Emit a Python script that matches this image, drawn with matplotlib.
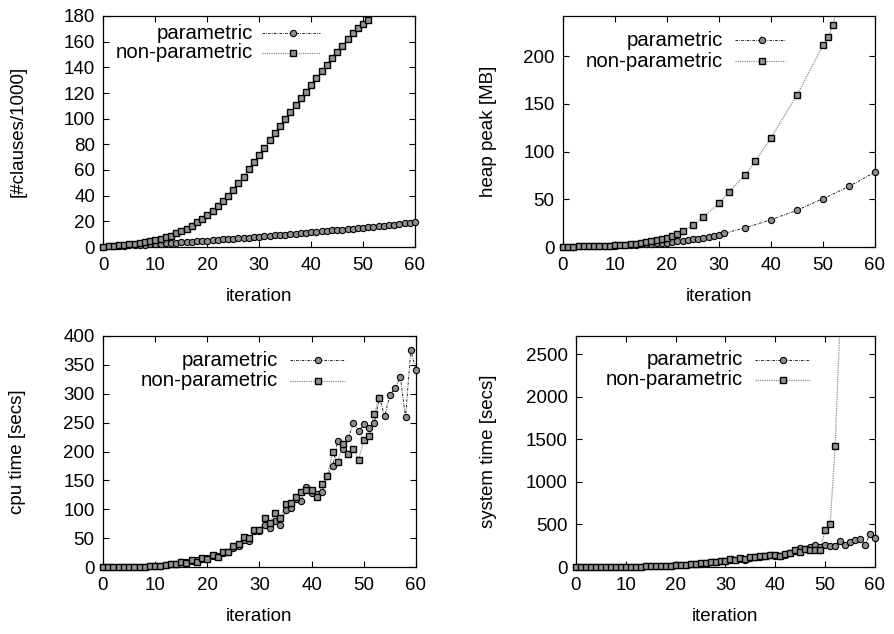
import numpy as np
import matplotlib
matplotlib.use("Agg")
import matplotlib.pyplot as plt
from matplotlib.lines import Line2D

plt.rcParams['font.family'] = ['Liberation Sans', 'DejaVu Sans']

FS = 13.5
FS_LEG = 14.7

# ---------------- data ----------------
labels = ["parametric", "non-parametric"]
xlabel = "iteration"
ylabels = ["[#clauses/1000]", "heap peak [MB]", "cpu time [secs]", "system time [secs]"]
xticks = [0, 10, 20, 30, 40, 50, 60]

# top-left: #clauses/1000
tl_param_x = list(range(61))
tl_param_y = [0.2, 0.4, 0.6, 0.8, 1.0, 1.2, 1.4, 1.6, 1.9, 2.1, 2.3, 2.6, 2.8, 3.1, 3.3,
              3.6, 3.9, 4.1, 4.4, 4.7, 5.0, 5.3, 5.6, 5.9, 6.2, 6.5, 6.8, 7.1, 7.4, 7.7,
              8.0, 8.3, 8.7, 9.0, 9.3, 9.7, 10.0, 10.4, 10.7, 11.1, 11.4, 11.8, 12.1, 12.5,
              12.9, 13.2, 13.6, 14.0, 14.4, 14.8, 15.1, 15.5, 15.9, 16.3, 16.7, 17.1, 17.5,
              17.9, 18.4, 18.8, 19.5]
tl_nonp_x = list(range(52))
tl_nonp_y = [0.3, 0.6, 1.0, 1.3, 1.6, 2.0, 2.4, 2.9, 3.6, 4.5, 5.5, 6.5, 7.5, 8.8, 10.7,
             12.5, 14.3, 16.6, 19.2, 21.6, 25.0, 28.3, 32.0, 36.0, 40.0, 44.5, 49.6, 54.8,
             60.5, 66.0, 71.5, 77, 83, 88.5, 94, 99.5, 105, 110.5, 116, 121, 126.5, 131.5,
             137, 142, 147, 152, 157, 162, 166.5, 171, 174, 177]

# top-right: heap peak [MB]
tr_param_x = list(range(32)) + [35, 40, 45, 50, 55, 60]
tr_param_y = [0.3, 0.4, 0.5, 0.6, 0.7, 0.8, 0.9, 1.0, 1.1, 1.3, 1.5, 1.7, 1.9, 2.1, 2.4,
              2.7, 3.0, 3.3, 3.7, 4.1, 4.6, 5.2, 5.8, 6.5, 7.2, 8.0, 8.8, 9.7, 10.7, 11.8,
              13.0, 14.3, 20.0, 28.6, 38.4, 50.6, 63.5, 78.5]
tr_nonp_x = list(range(24)) + [25, 27, 30, 32, 35, 37, 40, 45, 50, 51, 52, 53]
tr_nonp_y = [0.3, 0.4, 0.5, 0.6, 0.7, 0.8, 0.9, 1.1, 1.3, 1.5, 1.8, 2.1, 2.4, 2.8, 3.4,
             4.2, 4.9, 6.0, 7.0, 8.0, 9.7, 11.5, 13.6, 16.8, 23.0, 31.0, 46.0, 58.0, 75.4,
             90.0, 114.5, 159.0, 211.5, 220.0, 233.0, 262.0]

# bottom-left: cpu time [secs]
bl_param_x = list(range(61))
bl_param_y = [0, 0, 0, 0, 0, 0, 0, 0.5, 0.5, 1, 1.5, 2, 3, 6, 6, 8, 8, 10, 12, 14, 15, 19,
              19, 25, 26, 33, 36, 47, 45, 62, 63, 73, 67, 80, 73, 98, 102, 118, 115, 138,
              128, 127, 130, 158, 175, 219, 204, 223, 249, 235, 248, 241, 249, 293, 261,
              298, 310, 329, 259, 376, 341]
bl_nonp_x = list(range(54))
bl_nonp_y = [0, 0, 0, 0, 0, 0, 0, 0, 0.5, 1, 2, 2.5, 3.5, 5.8, 5.8, 8, 7.5, 11.5, 8.7, 16,
             13.3, 20, 17, 26, 26, 36, 39, 52, 50, 63.5, 63.5, 85, 77, 93.5, 85, 108.5, 111,
             121, 130, 133, 133, 122, 143, 157, 199, 181, 213.6, 196, 204, 186, 220, 226,
             265.5, 293]

# bottom-right: system time [secs]
br_param_x = list(range(61))
br_param_y = [0, 0, 0, 0, 0, 0, 0, 0, 0, 1, 2, 3, 4, 5, 6, 7, 9, 11, 13, 16, 20, 22, 25,
              30, 33, 40, 45, 55, 58, 68, 72, 82, 78, 95, 88, 110, 112, 122, 125, 138, 135,
              130, 140, 165, 185, 222, 215, 235, 255, 236, 256, 244, 244, 307, 256, 295,
              315, 331, 264, 386, 343]
br_nonp_x = list(range(54))
br_nonp_y = [0, 0, 0, 0, 0, 0, 0, 0, 0, 1, 2, 3, 4, 5, 6, 7, 9, 11, 13, 16, 20, 23, 25, 32,
             35, 42, 47, 60, 62, 70, 75, 90, 82, 100, 92, 112, 115, 125, 130, 140, 138, 128,
             150, 170, 205, 180, 215, 200, 205, 205, 433, 500, 1417, 2900]

ylims = [(0, 180), (0, 242), (0, 400), (0, 2712)]
yticks = [list(range(0, 181, 20)), [0, 50, 100, 150, 200],
          list(range(0, 401, 50)), [0, 500, 1000, 1500, 2000, 2500]]

# ---------------- style ----------------
param_line = dict(color='black', linestyle=(0, (3, 1.5, 0.8, 1.5)), linewidth=0.6)
nonp_line = dict(color='#8c8c8c', linestyle=(0, (1, 0.8)), linewidth=0.9)
param_mark = dict(marker='o', markersize=4.5, markerfacecolor='#8f8f8f',
                  markeredgecolor='black', markeredgewidth=0.8, linestyle='none')
nonp_mark = dict(marker='s', markersize=5.0, markerfacecolor='#949494',
                 markeredgecolor='black', markeredgewidth=1.0, linestyle='none')

W, H = 895, 634
fig = plt.figure(figsize=(W / 100, H / 100), dpi=100)

boxes = [(103.5, 16, 415, 247), (563, 16, 875, 247),
         (103, 336, 416, 567), (576, 336, 875, 567)]
ylab_x = [-0.274, -0.24, -0.272, -0.294]
legpos = [  # text_right, line_x0, line_x1, marker_x, row1_y, row2_y
    (0.48, 0.509, 0.695, 0.607, 0.926, 0.84),
    (0.512, 0.551, 0.712, 0.637, 0.896, 0.805),
    (0.56, 0.597, 0.773, 0.688, 0.896, 0.806),
    (0.559, 0.599, 0.783, 0.691, 0.897, 0.81),
]
series = [
    (tl_param_x, tl_param_y, tl_nonp_x, tl_nonp_y),
    (tr_param_x, tr_param_y, tr_nonp_x, tr_nonp_y),
    (bl_param_x, bl_param_y, bl_nonp_x, bl_nonp_y),
    (br_param_x, br_param_y, br_nonp_x, br_nonp_y),
]

for i, ((l, t, r, b), (px, py, nx, ny)) in enumerate(zip(boxes, series)):
    ax = fig.add_axes([l / W, 1 - b / H, (r - l) / W, (b - t) / H])
    ylo, yhi = ylims[i]
    ax.set_xlim(0, 60)
    ax.set_ylim(ylo, yhi)

    px_a, py_a = np.array(px), np.array(py, dtype=float)
    nx_a, ny_a = np.array(nx), np.array(ny, dtype=float)

    ax.plot(px_a, py_a, zorder=2, **param_line)
    ax.plot(nx_a, ny_a, zorder=2, **nonp_line)
    m = py_a <= yhi
    ax.plot(px_a[m], py_a[m], zorder=3, clip_on=False, **param_mark)
    m = ny_a <= yhi
    ax.plot(nx_a[m], ny_a[m], zorder=3, clip_on=False, **nonp_mark)

    ax.set_xticks(xticks)
    ax.set_yticks(yticks[i])
    ax.tick_params(direction='in', top=True, right=True, length=4, width=0.8,
                   labelsize=FS)
    ax.tick_params(axis='x', pad=7)
    ax.tick_params(axis='y', pad=6)
    for s in ax.spines.values():
        s.set_linewidth(0.9)

    ax.set_xlabel(xlabel, fontsize=FS)
    ax.xaxis.label.set_va('center')
    ax.xaxis.set_label_coords(0.5, -0.216)
    ax.set_ylabel(ylabels[i], fontsize=FS)
    ax.yaxis.label.set_va('center')
    ax.yaxis.set_label_coords(ylab_x[i], 0.5)

    tx, x0, x1, xm, y1, y2 = legpos[i]
    for lab, yy, ls, mk in [(labels[0], y1, param_line, param_mark),
                            (labels[1], y2, nonp_line, nonp_mark)]:
        ax.text(tx, yy, lab, transform=ax.transAxes, ha='right', va='center',
                fontsize=FS_LEG)
        ax.add_line(Line2D([x0, x1], [yy, yy], transform=ax.transAxes,
                           clip_on=False, **ls))
        ax.add_line(Line2D([xm], [yy], transform=ax.transAxes, clip_on=False, **mk))

fig.savefig("out.png", dpi=100)
